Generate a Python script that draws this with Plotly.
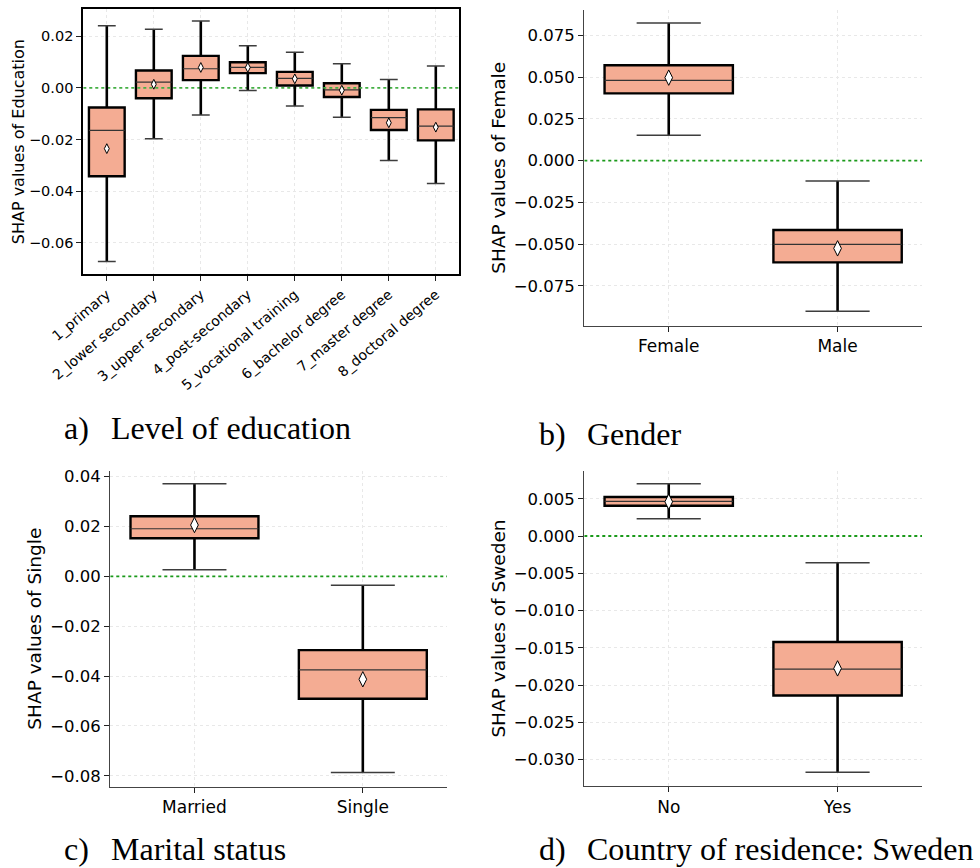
import plotly.graph_objects as go

# ---------------- data ----------------
edu_cats = ["1_primary", "2_lower secondary", "3_upper secondary", "4_post-secondary",
            "5_vocational training", "6_bachelor degree", "7_master degree", "8_doctoral degree"]
edu_upper = [0.0240, 0.0227, 0.0259, 0.0163, 0.0138, 0.0093, 0.0032, 0.0085]
edu_q3 = [-0.0076, 0.0067, 0.0124, 0.0099, 0.0062, 0.0018, -0.0085, -0.0083]
edu_median = [-0.0164, 0.0022, 0.0074, 0.0079, 0.0037, -0.0008, -0.0115, -0.0148]
edu_mean = [-0.0235, 0.0014, 0.0079, 0.0079, 0.0035, -0.0009, -0.0135, -0.0152]
edu_q1 = [-0.0342, -0.0040, 0.0030, 0.0057, 0.0009, -0.0035, -0.0163, -0.0203]
edu_lower = [-0.0672, -0.0197, -0.0105, -0.0010, -0.0070, -0.0114, -0.0281, -0.0370]

gender_cats = ["Female", "Male"]
gender_upper = [0.0824, -0.0122]
gender_q3 = [0.0571, -0.0415]
gender_median = [0.0481, -0.0501]
gender_mean = [0.0497, -0.0525]
gender_q1 = [0.0403, -0.0609]
gender_lower = [0.0152, -0.0902]

marital_cats = ["Married", "Single"]
marital_upper = [0.0372, -0.0036]
marital_q3 = [0.0241, -0.0296]
marital_median = [0.0191, -0.0375]
marital_mean = [0.0206, -0.0413]
marital_q1 = [0.0153, -0.0491]
marital_lower = [0.0027, -0.0787]

sweden_cats = ["No", "Yes"]
sweden_upper = [0.00703, -0.00358]
sweden_q3 = [0.00524, -0.01423]
sweden_median = [0.00466, -0.01786]
sweden_mean = [0.00460, -0.01777]
sweden_q1 = [0.00407, -0.02140]
sweden_lower = [0.00233, -0.03170]

edu_yticks = [0.02, 0.0, -0.02, -0.04, -0.06]
gender_yticks = [0.075, 0.05, 0.025, 0.0, -0.025, -0.05, -0.075]
marital_yticks = [0.04, 0.02, 0.0, -0.02, -0.04, -0.06, -0.08]
sweden_yticks = [0.005, 0.0, -0.005, -0.01, -0.015, -0.02, -0.025, -0.03]

reference_value = 0.0

# ---------------- styling ----------------
FILL = "#F4AC93"
BOXW = 0.76
CAPW = 0.38
SANS = "DejaVu Sans"
SERIF = "Liberation Serif"

fig = go.Figure()


def add_panel(n, cats, upper, q3, med, mean, q1, lower, marker_size, zero_color):
    xa = "x" if n == 1 else f"x{n}"
    ya = "y" if n == 1 else f"y{n}"
    pos = list(range(len(cats)))
    # dotted reference line at zero, spanning the whole category axis
    fig.add_trace(go.Scatter(x=[-0.5, len(cats) - 0.5], y=[reference_value, reference_value],
                             mode="lines", line=dict(color=zero_color, width=1.8, dash="dot"),
                             xaxis=xa, yaxis=ya, showlegend=False, hoverinfo="skip", cliponaxis=True))
    wx, wy, cx, cy, mx, my = [], [], [], [], [], []
    for i in pos:
        wx += [i, i, None, i, i, None]
        wy += [q3[i], upper[i], None, q1[i], lower[i], None]
        cx += [i - CAPW / 2, i + CAPW / 2, None, i - CAPW / 2, i + CAPW / 2, None]
        cy += [upper[i], upper[i], None, lower[i], lower[i], None]
        mx += [i - BOXW / 2, i + BOXW / 2, None]
        my += [med[i], med[i], None]
    fig.add_trace(go.Scatter(x=wx, y=wy, mode="lines", line=dict(color="black", width=2.6),
                             xaxis=xa, yaxis=ya, showlegend=False, hoverinfo="skip"))
    fig.add_trace(go.Scatter(x=cx, y=cy, mode="lines", line=dict(color="#3d3d3d", width=1.5),
                             xaxis=xa, yaxis=ya, showlegend=False, hoverinfo="skip"))
    fig.add_trace(go.Bar(x=pos, base=q1, y=[a - b for a, b in zip(q3, q1)], width=BOXW,
                         marker=dict(color=FILL, line=dict(color="black", width=2.4)),
                         xaxis=xa, yaxis=ya, showlegend=False))
    fig.add_trace(go.Scatter(x=mx, y=my, mode="lines", line=dict(color="#333333", width=1.2),
                             xaxis=xa, yaxis=ya, showlegend=False, hoverinfo="skip"))
    fig.add_trace(go.Scatter(x=pos, y=mean, mode="markers",
                             marker=dict(symbol="diamond-tall", size=marker_size, color="white",
                                         line=dict(color="black", width=1)),
                             xaxis=xa, yaxis=ya, showlegend=False))


add_panel(1, edu_cats, edu_upper, edu_q3, edu_median, edu_mean, edu_q1, edu_lower, 7, "#44b044")
add_panel(2, gender_cats, gender_upper, gender_q3, gender_median, gender_mean, gender_q1, gender_lower, 11, "#1a9a1a")
add_panel(3, marital_cats, marital_upper, marital_q3, marital_median, marital_mean, marital_q1, marital_lower, 11, "#1a9a1a")
add_panel(4, sweden_cats, sweden_upper, sweden_q3, sweden_median, sweden_mean, sweden_q1, sweden_lower, 11, "#1a9a1a")

GRID = dict(showgrid=True, gridcolor="#e8e8e8", gridwidth=1, griddash="dot", zeroline=False)


def xaxis(dom, anchor, cats, fs, angle, line_color, line_w, mirror):
    return dict(domain=dom, anchor=anchor, range=[-0.5, len(cats) - 0.5],
                tickmode="array", tickvals=list(range(len(cats))), ticktext=cats,
                tickangle=angle, tickfont=dict(family=SANS, size=fs, color="black"),
                ticks="outside", ticklen=5, tickwidth=1.3, tickcolor="#222",
                showline=True, linecolor=line_color, linewidth=line_w, mirror=mirror,
                automargin=False, fixedrange=True, **GRID)


def yaxis(dom, anchor, rng, ticks, fmt, title, fs, tfs, standoff, line_color, line_w, mirror):
    return dict(domain=dom, anchor=anchor, range=rng, tickmode="array", tickvals=ticks,
                tickformat=fmt, tickfont=dict(family=SANS, size=fs, color="black"),
                title=dict(text=title, font=dict(family=SANS, size=tfs, color="black"), standoff=standoff),
                ticks="outside", ticklen=5, tickwidth=1.3, tickcolor="#222",
                showline=True, linecolor=line_color, linewidth=line_w, mirror=mirror,
                automargin=False, fixedrange=True, **GRID)


dA_x = [83.3 / 980, 459.3 / 980]
dA_y = [1 - 274 / 868, 1 - 9.3 / 868]
dB_x = [584.3 / 980, 922 / 980]
dB_y = [1 - 325.7 / 868, 1 - 10 / 868]
dC_x = [110.3 / 980, 447 / 980]
dC_y = [1 - 786.7 / 868, 1 - 470.7 / 868]
dD_x = [584.3 / 980, 922 / 980]
dD_y = [1 - 786.3 / 868, 1 - 470.7 / 868]

fig.update_layout(
    width=980, height=868, margin=dict(l=0, r=0, t=0, b=0),
    paper_bgcolor="white", plot_bgcolor="white", barmode="overlay",
    xaxis=xaxis(dA_x, "y", edu_cats, 14, -40, "black", 2, True),
    yaxis=yaxis(dA_y, "x", [-0.0720, 0.0304], edu_yticks, ".2f", "SHAP values of Education", 14.5, 16, 0, "black", 2, True),
    xaxis2=xaxis(dB_x, "y2", gender_cats, 17, 0, "#444", 1.3, False),
    yaxis2=yaxis(dB_y, "x2", [-0.0988, 0.0902], gender_yticks, ".3f", "SHAP values of Female", 16.5, 18.5, 3, "#444", 1.3, False),
    xaxis3=xaxis(dC_x, "y3", marital_cats, 17, 0, "#444", 1.3, False),
    yaxis3=yaxis(dC_y, "x3", [-0.0844, 0.0424], marital_yticks, ".2f", "SHAP values of Single", 16.5, 18.5, 3, "#444", 1.3, False),
    xaxis4=xaxis(dD_x, "y4", sweden_cats, 17, 0, "#444", 1.3, False),
    yaxis4=yaxis(dD_y, "x4", [-0.0336, 0.00877], sweden_yticks, ".3f", "SHAP values of Sweden", 16.5, 18.5, 3, "#444", 1.3, False),
    yaxis5=dict(overlaying="y2", anchor="x2", side="right", range=[-0.0988, 0.0902], showline=True,
                linecolor="#bdbdbd", linewidth=2, showticklabels=False, ticks="", showgrid=False,
                zeroline=False, fixedrange=True),
    yaxis6=dict(overlaying="y4", anchor="x4", side="right", range=[-0.0336, 0.00877], showline=True,
                linecolor="#bdbdbd", linewidth=2, showticklabels=False, ticks="", showgrid=False,
                zeroline=False, fixedrange=True),
)

# panel captions
captions_top = [
    ("a)", "Level of education", 62.7, 110, 428),
    ("b)", "Gender", 538.3, 586, 434),
]
for lab, txt, xl, xt, yc in captions_top:
    for t, xp in ((lab, xl), (txt, xt)):
        fig.add_annotation(text=t, xref="paper", yref="paper", x=xp / 980, y=1 - yc / 868,
                           xanchor="left", yanchor="middle", showarrow=False, borderpad=0,
                           font=dict(family=SERIF, size=32, color="black"))
captions_bottom = [
    ("c)", "Marital status", 63.3, 110),
    ("d)", "Country of residence: Sweden", 538.3, 586),
]
for lab, txt, xl, xt in captions_bottom:
    for t, xp in ((lab, xl), (txt, xt)):
        fig.add_annotation(text=t, xref="paper", yref="paper", x=xp / 980, y=0,
                           xanchor="left", yanchor="bottom", showarrow=False, borderpad=0,
                           font=dict(family=SERIF, size=32, color="black"))

fig.write_html("out.html")
